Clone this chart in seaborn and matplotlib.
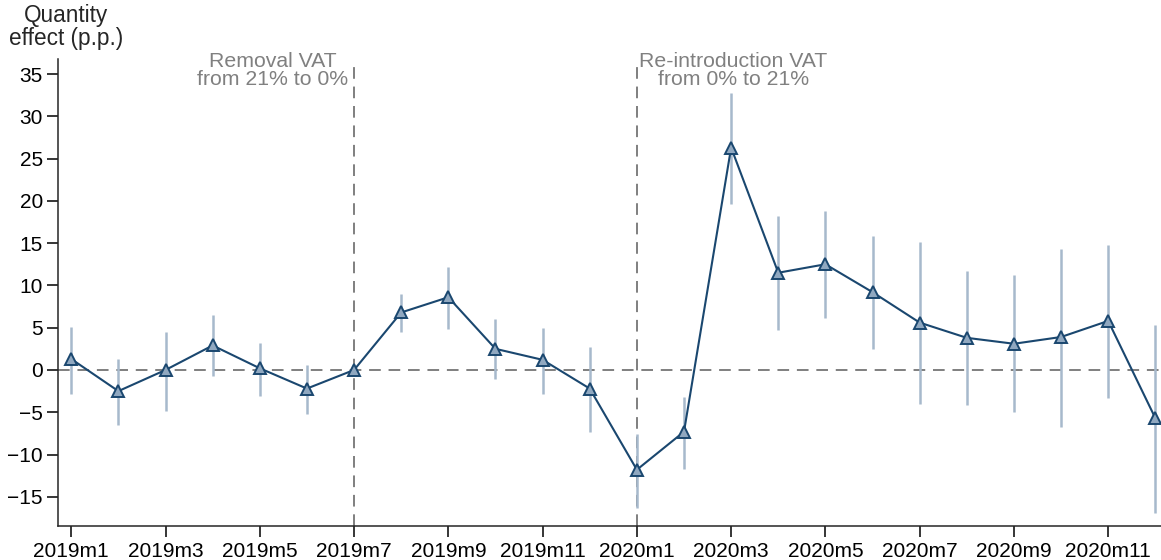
import numpy as np
import pandas as pd
import matplotlib
matplotlib.use("Agg")
import matplotlib.pyplot as plt
import seaborn as sns

# monthly estimates (quantity effect, p.p.) with 95% CI bounds
months = ['2019m1', '2019m2', '2019m3', '2019m4', '2019m5', '2019m6',
          '2019m7', '2019m8', '2019m9', '2019m10', '2019m11', '2019m12',
          '2020m1', '2020m2', '2020m3', '2020m4', '2020m5', '2020m6',
          '2020m7', '2020m8', '2020m9', '2020m10', '2020m11', '2020m12']
effect = [1.3, -2.5, 0.0, 2.9, 0.2, -2.2, 0.0, 6.8, 8.6, 2.5, 1.2, -2.2,
          -11.8, -7.3, 26.3, 11.5, 12.5, 9.2, 5.6, 3.8, 3.1, 3.9, 5.8, -5.7]
ci_low = [-2.8, -6.5, -4.8, -0.7, -3.1, -5.2, np.nan, 4.5, 4.9, -1.1, -2.9, -7.3,
          -16.3, -11.7, 19.6, 4.7, 6.1, 2.5, -4.0, -4.1, -5.0, -6.7, -3.3, -16.9]
ci_high = [5.1, 1.3, 4.5, 6.5, 3.2, 0.6, np.nan, 9.0, 12.2, 6.0, 5.0, 2.7,
           -7.6, -3.2, 32.7, 18.2, 18.8, 15.8, 15.1, 11.7, 11.2, 14.3, 14.8, 5.3]

df = pd.DataFrame({'t': np.arange(len(months)), 'month': months,
                   'effect': effect, 'lo': ci_low, 'hi': ci_high})

sns.set_style("ticks")
plt.rcParams['font.family'] = ['Liberation Sans', 'DejaVu Sans']

navy = '#1a476f'
fig, ax = plt.subplots(figsize=(11.61, 5.6), dpi=100)

# reference lines
ax.axhline(0, color='#7f7f7f', linestyle=(0, (6, 4)), linewidth=1.4, zorder=1)
for xv in [6, 12]:
    ax.axvline(xv, ymax=(36.3 + 18.5) / (36.8 + 18.5), color='#7f7f7f',
               linestyle=(0, (6, 4)), linewidth=1.4, zorder=1)

# confidence intervals
ax.vlines(df['t'], df['lo'], df['hi'], color='#a7b9cc', linewidth=1.8, zorder=2)

sns.lineplot(data=df, x='t', y='effect', ax=ax, color=navy, linewidth=1.5,
             marker='^', markersize=9, markerfacecolor='#90a8c0',
             markeredgecolor=navy, markeredgewidth=1.4, zorder=3)

ax.text(5.88, 37.6, 'Removal VAT\nfrom 21% to 0%', ha='right', va='top',
        multialignment='center', color='#808080', fontsize=15.3, linespacing=0.92)
ax.text(12.05, 37.6, 'Re-introduction VAT\nfrom 0% to 21%', ha='left', va='top',
        multialignment='center', color='#808080', fontsize=15.3, linespacing=0.92)

ax.set_xlim(-0.28, 23.12)
ax.set_ylim(-18.5, 36.8)
ax.set_xticks(df['t'][::2])
ax.set_xticklabels(df['month'][::2])
ax.set_yticks(np.arange(-15, 36, 5))
ax.tick_params(axis='both', labelsize=15, length=8, width=1.1, colors='black', pad=3)
ax.set_xlabel('')
ax.set_ylabel('')
sns.despine(ax=ax, top=True, right=True)
for s in ['left', 'bottom']:
    ax.spines[s].set_linewidth(1.1)

fig.text(0.057, 0.992, 'Quantity\neffect (p.p.)', ha='center', va='top',
         fontsize=16.3, linespacing=0.95)

fig.subplots_adjust(left=0.05, right=1.0, top=0.895, bottom=0.06)
fig.savefig('out.png', dpi=100)
